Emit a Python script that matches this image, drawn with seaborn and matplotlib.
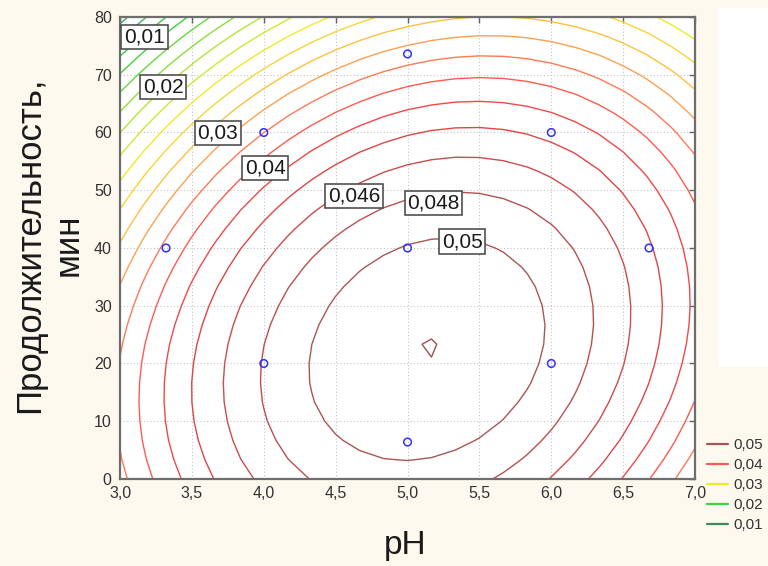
import numpy as np
import pandas as pd
import matplotlib
matplotlib.use("Agg")
import matplotlib.pyplot as plt
from matplotlib.colors import LinearSegmentedColormap, Normalize
from matplotlib.lines import Line2D
from matplotlib.patches import Rectangle
import seaborn as sns

# Experimental design points: pH and duration (min)
design_ph = [3.32, 4.0, 4.0, 5.0, 5.0, 5.0, 6.0, 6.0, 6.68]
design_time = [40, 20, 60, 6.4, 40, 73.6, 20, 60, 40]

# Second-order response surface fitted to the design:
# z = b0 + b1*pH + b2*t + b11*pH^2 + b22*t^2 + b12*pH*t
coef_names = ["b0", "b1", "b2", "b11", "b22", "b12"]
coef_values = [-0.0268669, 0.0307272, -0.00000095, -0.0031, -0.00000564, 0.0000496]

contour_levels = [0.010, 0.012, 0.014, 0.016, 0.018, 0.020, 0.022, 0.024, 0.026,
                  0.028, 0.030, 0.032, 0.034, 0.036, 0.038, 0.040, 0.042, 0.044,
                  0.046, 0.048, 0.050, 0.052]

# Labelled isolines and where their labels sit
label_levels = [0.01, 0.02, 0.03, 0.04, 0.046, 0.048, 0.05]
label_ph = [3.17, 3.30, 3.68, 4.01, 4.63, 5.18, 5.38]
label_time = [76.5, 67.9, 59.9, 53.9, 49.0, 47.8, 41.1]

legend_levels = [0.05, 0.04, 0.03, 0.02, 0.01]

x_ticks = [3.0, 3.5, 4.0, 4.5, 5.0, 5.5, 6.0, 6.5, 7.0]
y_ticks = [0, 10, 20, 30, 40, 50, 60, 70, 80]


def comma(v, fmt="{:g}"):
    return fmt.format(v).replace(".", ",")


sns.set_theme(style="white")
plt.rcParams["font.family"] = ["Liberation Sans", "DejaVu Sans"]

# Colour scale for the isolines: green -> yellow -> orange -> red -> brown
anchors = [(0.010, "#3f8a5a"), (0.016, "#3cbf50"), (0.020, "#3dd23d"),
           (0.026, "#b4e632"), (0.030, "#f0eb28"), (0.034, "#ffc23c"),
           (0.036, "#ffa050"), (0.038, "#ff7a55"), (0.040, "#ff5a50"),
           (0.042, "#f24848"), (0.044, "#e04545"), (0.046, "#cc4c4c"),
           (0.048, "#b85050"), (0.050, "#aa5555"), (0.052, "#a05050")]
lo, hi = anchors[0][0], anchors[-1][0]
cmap = LinearSegmentedColormap.from_list(
    "iso", [((lv - lo) / (hi - lo), c) for lv, c in anchors])
norm = Normalize(lo, hi)

fig = plt.figure(figsize=(7.68, 5.66), dpi=100, facecolor="#fdf9ee")
fig.patches.append(Rectangle((718 / 768, 1 - 367 / 566), 50 / 768, 359 / 566,
                             transform=fig.transFigure, fc="white", ec="none",
                             zorder=0))
ax = fig.add_axes([0.1563, 0.1537, 0.7487, 0.8163])
ax.set_facecolor("white")

# Evaluate the fitted surface on a grid
ph_grid = np.linspace(3.0, 7.0, 25)
t_grid = np.linspace(0.0, 80.0, 25)
PH, T = np.meshgrid(ph_grid, t_grid)
b = dict(zip(coef_names, coef_values))
Z = (b["b0"] + b["b1"] * PH + b["b2"] * T + b["b11"] * PH ** 2
     + b["b22"] * T ** 2 + b["b12"] * PH * T)

ax.contour(PH, T, Z, levels=contour_levels, cmap=cmap, norm=norm,
           linewidths=1.0, zorder=2)

pts = pd.DataFrame({"pH": design_ph, "t": design_time})
sns.scatterplot(data=pts, x="pH", y="t", ax=ax, marker="o", s=30,
                color="#3030ff", facecolor="none", edgecolor="#3030ff",
                linewidth=1.1, zorder=4)

for lv, px, py in zip(label_levels, label_ph, label_time):
    ax.text(px, py, comma(lv), ha="center", va="center", fontsize=15,
            color="#1a1a1a", zorder=5,
            bbox=dict(boxstyle="square,pad=0.13", fc="white", ec="#505050", lw=1.2))

ax.set_xlim(3, 7)
ax.set_ylim(0, 80)
ax.set_xticks(x_ticks)
ax.set_xticklabels([comma(v, "{:.1f}") for v in x_ticks])
ax.set_yticks(y_ticks)
ax.set_yticklabels([str(v) for v in y_ticks])
ax.set_xlabel("")
ax.set_ylabel("")
ax.tick_params(direction="in", top=True, right=True, length=4, width=1,
               color="#606060", labelsize=11.5, labelcolor="#333333")
ax.tick_params(axis="x", pad=5)
ax.tick_params(axis="y", pad=6)
ax.grid(True, linestyle=(0, (1, 2)), color="#c4c4c4", linewidth=0.8)
ax.set_axisbelow(True)
for s in ax.spines.values():
    s.set_color("#6e6e6e")
    s.set_linewidth(1.6)

ax.text(0.4957, -0.143, "pH", transform=ax.transAxes, ha="center", va="center",
        fontsize=24, color="#1a1a1a")
ax.text(-0.1235, 0.506, "Продолжительность,\nмин", transform=ax.transAxes,
        rotation=90, ha="center", va="center", multialignment="center",
        fontsize=25, color="#1a1a1a")

handles = [Line2D([], [], color=cmap(norm(lv)), lw=1.6) for lv in legend_levels]
fig.legend(handles, [comma(lv) for lv in legend_levels], loc="upper left",
           bbox_to_anchor=(707 / 768, 1 - 438 / 566), frameon=False,
           fontsize=11, handlelength=1.35, handletextpad=0.4,
           labelspacing=0.4, borderpad=0, borderaxespad=0, labelcolor="#333333")

fig.savefig("out.png", dpi=100, facecolor=fig.get_facecolor())
